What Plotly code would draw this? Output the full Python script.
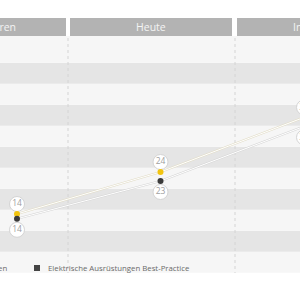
import plotly.graph_objects as go

# ---- data ----
categories = ["Vor 5 Jahren", "Heute", "In 5 Jahren"]
series_names = ["Elektrische Ausrüstungen", "Elektrische Ausrüstungen Best-Practice"]
values_main = [14, 24, 37]
values_best = [14, 23, 36]
band_step = 5
band_max = 55

# ---- styling / geometry constants ----
W, H = 300, 300
PX_PER_X = 143.5
X0_PX = 17.0
PX_PER_Y = 4.2
Y0_PX = 272.8
DARK_SHIFT_PX = 4.8
YELLOW = "#f2c40f"
DARK = "#3a3a3a"
LIGHT_BAND = "#f6f6f6"
GRAY_BAND = "#e5e5e5"
HEADER = "#b3b3b3"
FONT = "Open Sans"

xpos = list(range(len(categories)))
xr = [-X0_PX / PX_PER_X, (W - X0_PX) / PX_PER_X]
yr = [-(H - Y0_PX) / PX_PER_Y, Y0_PX / PX_PER_Y]
sh = DARK_SHIFT_PX / PX_PER_Y
yr2 = [yr[0] + sh, yr[1] + sh]

def py(p):
    return 1 - p / H

def px(p):
    return p / W

fig = go.Figure()

# connecting lines (pale, white core with grey edges)
for vals, col, axis in [(values_best, "#d6d6d6", "y2"), (values_main, "#e2ddc8", "y")]:
    fig.add_trace(go.Scatter(x=xpos, y=vals, mode="lines", yaxis=axis,
                             line=dict(color=col, width=2.2), hoverinfo="skip", showlegend=False))
    fig.add_trace(go.Scatter(x=xpos, y=vals, mode="lines", yaxis=axis,
                             line=dict(color="#ffffff", width=1), hoverinfo="skip", showlegend=False))

# value labels in circles
lab_up = 10 / PX_PER_Y
lab_dn = 11 / PX_PER_Y
fig.add_trace(go.Scatter(x=xpos, y=[v + lab_up for v in values_main], yaxis="y", mode="markers+text",
                         text=[str(v) for v in values_main], textposition="middle center",
                         textfont=dict(family=FONT, size=8.5, color="#a0a0a0"),
                         marker=dict(size=15, color="white", line=dict(color="#d4d4d4", width=1)),
                         hoverinfo="skip", showlegend=False))
fig.add_trace(go.Scatter(x=xpos, y=[v - lab_dn for v in values_best], yaxis="y2", mode="markers+text",
                         text=[str(v) for v in values_best], textposition="middle center",
                         textfont=dict(family=FONT, size=8.5, color="#a0a0a0"),
                         marker=dict(size=15, color="white", line=dict(color="#d4d4d4", width=1)),
                         hoverinfo="skip", showlegend=False))

# markers (on top)
fig.add_trace(go.Scatter(x=xpos, y=values_best, mode="markers", yaxis="y2", name=series_names[1],
                         marker=dict(color=DARK, size=6), showlegend=False))
fig.add_trace(go.Scatter(x=xpos, y=values_main, mode="markers", yaxis="y", name=series_names[0],
                         marker=dict(color=YELLOW, size=6), showlegend=False))

shapes = []
# horizontal bands
nb = band_max // band_step
header_bottom_px = 36
for i in range(nb):
    y0 = i * band_step
    y1 = (i + 1) * band_step
    if i == nb - 1:
        y1 = (Y0_PX - header_bottom_px) / PX_PER_Y
    shapes.append(dict(type="rect", xref="paper", yref="y", x0=0, x1=1, y0=y0, y1=y1,
                       fillcolor=GRAY_BAND if i % 2 else LIGHT_BAND, line=dict(width=0), layer="below"))

# dotted vertical separators
for xs in [68, 235]:
    shapes.append(dict(type="line", xref="paper", yref="paper", x0=px(xs), x1=px(xs),
                       y0=py(38), y1=py(273), line=dict(color="#d4d4d4", width=1, dash="dot"),
                       layer="below"))

# headers
header_spans = [(-100, 66), (70, 232), (237, 400)]
for a, b in header_spans:
    shapes.append(dict(type="rect", xref="paper", yref="paper", x0=px(a), x1=px(b),
                       y0=py(36), y1=py(18), fillcolor=HEADER, line=dict(width=0), layer="below"))

# legend square
shapes.append(dict(type="rect", xref="paper", yref="paper", x0=px(34), x1=px(40),
                   y0=py(271), y1=py(265), fillcolor="#444444", line=dict(width=0)))

annotations = [
    dict(text=categories[0], xref="paper", yref="paper", x=px(18), y=py(27), xanchor="right",
         yanchor="middle", showarrow=False, font=dict(family=FONT, size=10.5, color="#f4f4f4")),
    dict(text=categories[1], xref="paper", yref="paper", x=px(151), y=py(27), xanchor="center",
         yanchor="middle", showarrow=False, font=dict(family=FONT, size=10.5, color="#f4f4f4")),
    dict(text=categories[2], xref="paper", yref="paper", x=px(291), y=py(27), xanchor="left",
         yanchor="middle", showarrow=False, font=dict(family=FONT, size=10.5, color="#f4f4f4")),
    dict(text=series_names[0], xref="paper", yref="paper", x=px(9), y=py(268), xanchor="right",
         yanchor="middle", showarrow=False, font=dict(family=FONT, size=7.8, color="#6a6a6a")),
    dict(text=series_names[1], xref="paper", yref="paper", x=px(46), y=py(268), xanchor="left",
         yanchor="middle", showarrow=False, font=dict(family=FONT, size=7.8, color="#6a6a6a")),
]

fig.update_layout(
    width=W, height=H, margin=dict(l=0, r=0, t=0, b=0),
    paper_bgcolor="white", plot_bgcolor="white",
    xaxis=dict(range=xr, visible=False, fixedrange=True),
    yaxis=dict(range=yr, visible=False, fixedrange=True),
    yaxis2=dict(range=yr2, visible=False, overlaying="y", fixedrange=True),
    shapes=shapes, annotations=annotations, showlegend=False,
)

fig.write_html("out.html")
